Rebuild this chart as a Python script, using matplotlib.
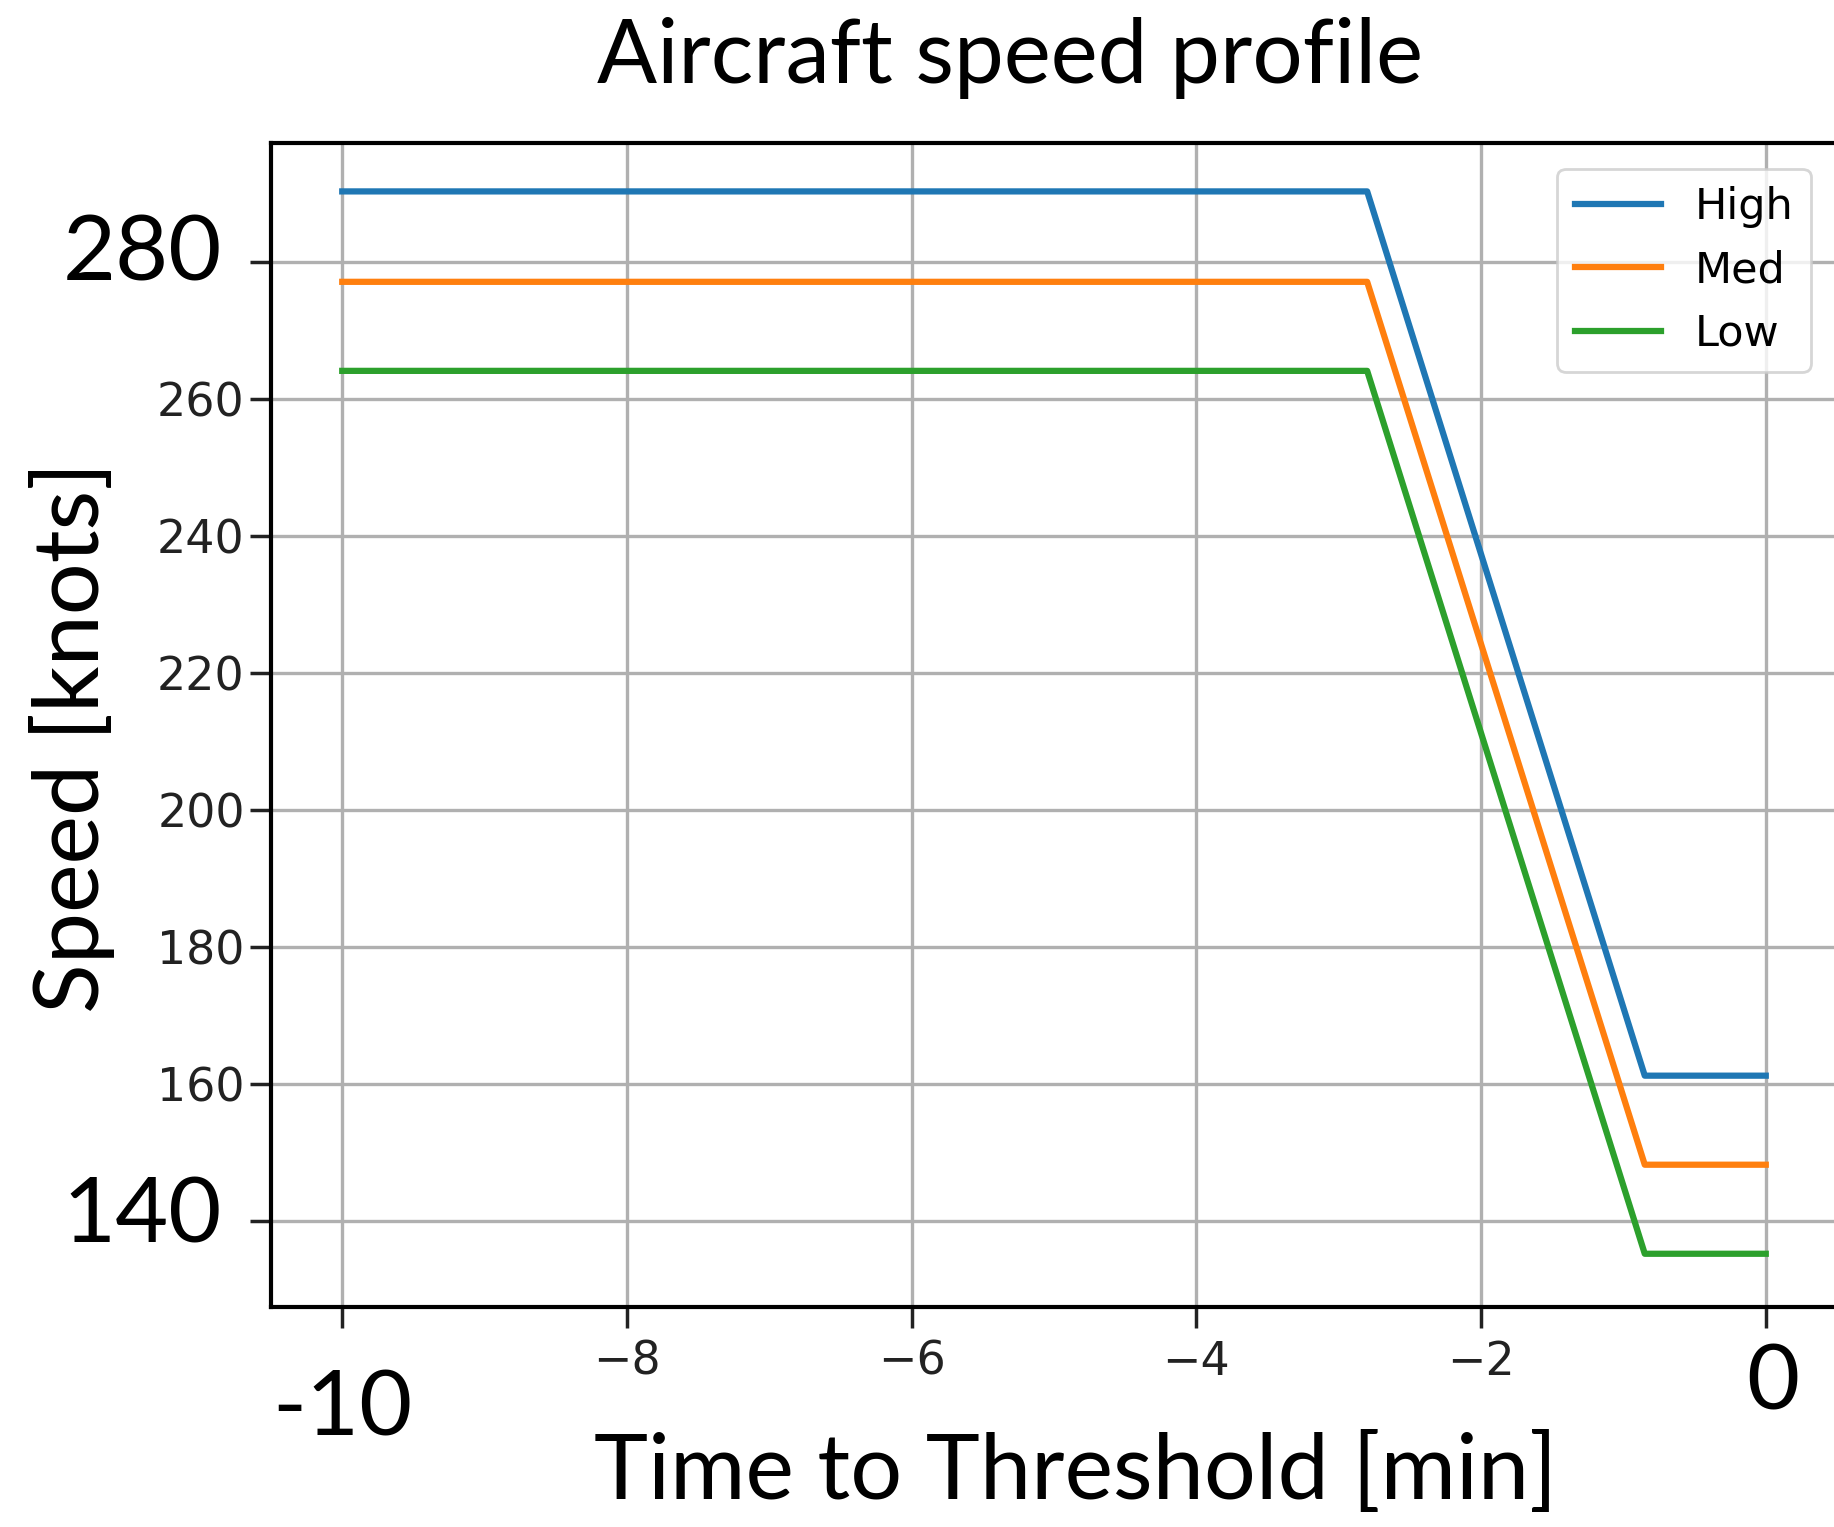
import matplotlib
matplotlib.use("Agg")
import matplotlib.pyplot as plt
import matplotlib.transforms as mtransforms

# Speed profiles (knots) vs time to threshold (min)
time_pts = [-10, -2.8, -0.85, 0]
high = [290.3, 290.3, 161.2, 161.2]
med = [277.1, 277.1, 148.2, 148.2]
low = [264.1, 264.1, 135.2, 135.2]
series_names = ["High", "Med", "Low"]

x_ticks = [-10, -8, -6, -4, -2, 0]
y_ticks = [140, 160, 180, 200, 220, 240, 260, 280]
big_x = {-10: "-10", 0: "0"}
big_y = {280: "280", 140: "140"}

BIG = "Lato"

fig = plt.figure(figsize=(18.34, 15.27), dpi=100)
ax = fig.add_axes([0.1478, 0.1444, 0.8538, 0.7621])

for ys, name in zip([high, med, low], series_names):
    ax.plot(time_pts, ys, lw=4.5, label=name)

ax.set_ylim(127.5, 297.4)
ax.set_xticks(x_ticks)
ax.set_yticks(y_ticks)
ax.set_xticklabels(["" if t in big_x else f"\u2212{abs(t)}" for t in x_ticks])
ax.set_yticklabels(["" if t in big_y else str(t) for t in y_ticks])
ax.tick_params(labelsize=33, length=15, width=2.5, colors="#222222")
ax.tick_params(axis="x", pad=9)
ax.tick_params(axis="y", pad=4)
ax.grid(True, color="#b0b0b0", lw=2.4)
for sp in ax.spines.values():
    sp.set_linewidth(3)

leg = ax.legend(loc="upper right", fontsize=31, handlelength=2.0,
                borderaxespad=0.6, fancybox=True, framealpha=0.8)
leg.get_frame().set_linewidth(2.0)

# larger overlaid labels
xt = mtransforms.blended_transform_factory(ax.transData, fig.transFigure)
yt = mtransforms.blended_transform_factory(fig.transFigure, ax.transData)
ax.text(-10, 1 - 1410 / 1527, big_x[-10], transform=xt, family=BIG,
        fontsize=66, ha="center", va="center")
ax.text(0.05, 1 - 1384 / 1527, big_x[0], transform=xt, family=BIG,
        fontsize=66, ha="center", va="center")
fig.text(222 / 1834, 281, big_y[280], transform=yt, family=BIG,
         fontsize=66, ha="right", va="center")
fig.text(222 / 1834, 140.5, big_y[140], transform=yt, family=BIG,
         fontsize=66, ha="right", va="center")

fig.text(1010 / 1834, 1 - 58 / 1527, "Aircraft speed profile", family=BIG,
         fontsize=64, ha="center", va="center")
fig.text(1076 / 1834, 1 - 1474 / 1527, "Time to Threshold [min]", family=BIG,
         fontsize=66, ha="center", va="center")
fig.text(72 / 1834, 1 - 737 / 1527, "Speed [knots]", family=BIG,
         fontsize=66, ha="center", va="center", rotation=90)

fig.savefig("out.png", dpi=100)
